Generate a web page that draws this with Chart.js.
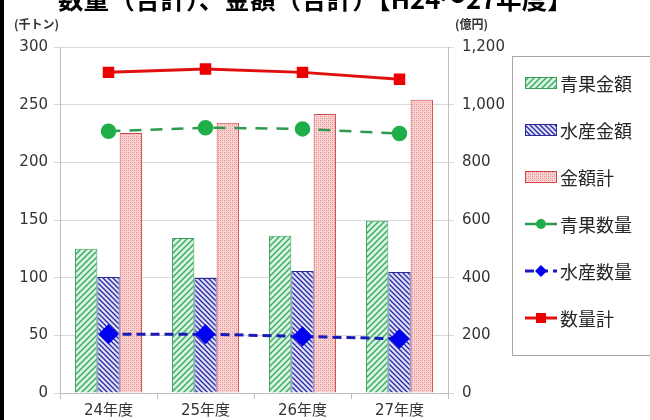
<!DOCTYPE html>
<html>
<head>
<meta charset="utf-8">
<script src="https://cdn.jsdelivr.net/npm/chart.js@4"></script>
<style>
  html, body { margin: 0; padding: 0; background: #fff; }
  #wrap { position: relative; width: 650px; height: 420px; }
</style>
</head>
<body>
<div id="wrap"><canvas id="c" width="650" height="420"></canvas></div>
<script>
// 年度
const years = ['24年度', '25年度', '26年度', '27年度'];
// 金額（億円）
const vegAmount   = [500, 538, 545, 597];
const fishAmount  = [402, 399, 423, 420];
const totalAmount = [902, 937, 968, 1017];
// 数量（千トン）
const vegVolume   = [227, 230, 229, 225];
const fishVolume  = [51, 51, 49, 47];
const totalVolume = [278, 281, 278, 272];
// 目盛
const volumeTicks = [0, 50, 100, 150, 200, 250, 300];
const amountTicks = [0, 200, 400, 600, 800, 1000, 1200];

const TITLE = '数量（合計）、金額（合計）【H24～27年度】';
const CJK = '"Noto Sans CJK JP", "Noto Sans", sans-serif';
const NUM = '"DejaVu Sans", "Noto Sans CJK JP", sans-serif';

function makePattern(size, bg, draw) {
  const c = document.createElement('canvas');
  c.width = size; c.height = size;
  const g = c.getContext('2d');
  g.fillStyle = bg; g.fillRect(0, 0, size, size);
  draw(g, size);
  return document.getElementById('c').getContext('2d').createPattern(c, 'repeat');
}

const greenHatch = makePattern(6, '#d6f4e0', (g, s) => {
  g.strokeStyle = '#3aa862'; g.lineWidth = 1.4;
  g.beginPath();
  g.moveTo(-1, s + 1); g.lineTo(s + 1, -1);
  g.moveTo(-1, 1); g.lineTo(1, -1);
  g.moveTo(s - 1, s + 1); g.lineTo(s + 1, s - 1);
  g.stroke();
});
const blueHatch = makePattern(5, '#e2e2f7', (g, s) => {
  g.strokeStyle = '#2626a8'; g.lineWidth = 1.3;
  g.beginPath();
  g.moveTo(-1, -1); g.lineTo(s + 1, s + 1);
  g.moveTo(s - 1, -1); g.lineTo(s + 1, 1);
  g.moveTo(-1, s - 1); g.lineTo(1, s + 1);
  g.stroke();
});
const pinkDots = makePattern(4, '#f9d2d2', (g) => {
  g.fillStyle = '#e88a8a';
  g.fillRect(0, 0, 1, 1); g.fillRect(2, 2, 1, 1);
  g.fillStyle = '#f2abab';
  g.fillRect(2, 0, 1, 1); g.fillRect(0, 2, 1, 1);
});

const decor = {
  id: 'decor',
  beforeDraw(chart) {
    const ctx = chart.ctx;
    ctx.save();
    ctx.fillStyle = '#fff';
    ctx.fillRect(0, 0, chart.width, chart.height);
    ctx.restore();
  },
  afterDraw(chart) {
    const ctx = chart.ctx;
    ctx.save();
    // left frame edge
    ctx.fillStyle = '#000';
    ctx.fillRect(0, 0, 4, chart.height);

    // main title (upper part runs off the top)
    ctx.fillStyle = '#000';
    let fs = 28;
    ctx.font = 'bold ' + fs + 'px ' + CJK;
    const w = ctx.measureText(TITLE).width;
    fs = fs * 515 / w;
    ctx.font = 'bold ' + fs.toFixed(1) + 'px ' + CJK;
    ctx.textBaseline = 'ideographic';
    ctx.textAlign = 'left';
    ctx.fillText(TITLE, 58, 12);

    // axis units
    ctx.font = 'bold 12px ' + CJK;
    ctx.fillStyle = '#333';
    ctx.textBaseline = 'middle';
    ctx.fillText('(千トン)', 14, 24);
    ctx.fillText('(億円)', 455, 24);

    // legend
    const lx = 512.5, ly = 56.5;
    ctx.strokeStyle = '#a6a6a6';
    ctx.lineWidth = 1;
    ctx.strokeRect(lx, ly, 170, 299);
    const rows = [83, 130, 177, 224, 271, 318];
    chart.data.datasets.forEach((ds, i) => {
      const y = rows[i];
      const sx = 525, sw = 32;
      if (ds.type === 'bar') {
        ctx.fillStyle = ds.backgroundColor;
        ctx.fillRect(sx, y - 6, sw, 12);
        ctx.strokeStyle = ds.borderColor;
        ctx.lineWidth = 1;
        ctx.strokeRect(sx + 0.5, y - 5.5, sw - 1, 11);
      } else {
        ctx.strokeStyle = ds.borderColor;
        ctx.lineWidth = ds.borderWidth;
        ctx.setLineDash(ds.borderDash || []);
        ctx.beginPath();
        ctx.moveTo(sx, y); ctx.lineTo(sx + sw, y);
        ctx.stroke();
        ctx.setLineDash([]);
        const cx = sx + sw / 2;
        ctx.fillStyle = ds.pointBackgroundColor;
        ctx.beginPath();
        if (ds.pointStyle === 'circle') {
          ctx.arc(cx, y, 5, 0, Math.PI * 2);
        } else if (ds.pointStyle === 'rectRot') {
          ctx.moveTo(cx, y - 6); ctx.lineTo(cx + 6, y); ctx.lineTo(cx, y + 6); ctx.lineTo(cx - 6, y);
          ctx.closePath();
        } else {
          ctx.rect(cx - 5, y - 5, 10, 10);
        }
        ctx.fill();
      }
      ctx.fillStyle = '#262626';
      ctx.font = '18px ' + CJK;
      ctx.textBaseline = 'middle';
      ctx.textAlign = 'left';
      ctx.fillText(ds.label, 560, y + 1);
    });
    ctx.restore();
  }
};

new Chart(document.getElementById('c'), {
  data: {
    labels: years,
    datasets: [
      { type: 'bar', label: '青果金額', data: vegAmount, yAxisID: 'yAmount', order: 2,
        backgroundColor: greenHatch, borderColor: '#3c9c5c', borderWidth: 1 },
      { type: 'bar', label: '水産金額', data: fishAmount, yAxisID: 'yAmount', order: 2,
        backgroundColor: blueHatch, borderColor: '#2a2a9c', borderWidth: 1 },
      { type: 'bar', label: '金額計', data: totalAmount, yAxisID: 'yAmount', order: 2,
        backgroundColor: pinkDots, borderColor: '#d24848', borderWidth: 1 },
      { type: 'line', label: '青果数量', data: vegVolume, yAxisID: 'yVolume', order: 1,
        borderColor: '#2e9a50', borderWidth: 2.5, borderDash: [12, 9],
        pointStyle: 'circle', pointRadius: 6.5, pointBackgroundColor: '#1fae48', pointBorderColor: '#1fae48',
        fill: false, tension: 0 },
      { type: 'line', label: '水産数量', data: fishVolume, yAxisID: 'yVolume', order: 1,
        borderColor: '#1a1ab8', borderWidth: 3, borderDash: [9, 5],
        pointStyle: 'rectRot', pointRadius: 8, pointBackgroundColor: '#0000f0', pointBorderColor: '#0000f0',
        fill: false, tension: 0 },
      { type: 'line', label: '数量計', data: totalVolume, yAxisID: 'yVolume', order: 0,
        borderColor: '#e01010', borderWidth: 3,
        pointStyle: 'rect', pointRadius: 6, pointBackgroundColor: '#ee0000', pointBorderColor: '#ee0000',
        fill: false, tension: 0 }
    ]
  },
  options: {
    responsive: false,
    animation: false,
    devicePixelRatio: 1,
    layout: { padding: { top: 47, right: 140, left: 0, bottom: 0 } },
    datasets: { bar: { categoryPercentage: 0.69, barPercentage: 1.0 } },
    plugins: { legend: { display: false }, tooltip: { enabled: false }, title: { display: false } },
    scales: {
      x: {
        offset: true,
        grid: { display: true, offset: true, drawOnChartArea: false, drawTicks: true, tickLength: 6, color: '#bfbfbf' },
        border: { display: true, color: '#bfbfbf' },
        ticks: { color: '#333', font: { family: NUM, size: 15 }, padding: 3 },
        afterFit: s => { s.height = 27; }
      },
      yVolume: {
        position: 'left', min: 0, max: 300,
        afterBuildTicks: s => { s.ticks = volumeTicks.map(v => ({ value: v })); },
        grid: { color: '#d9d9d9', tickLength: 6, lineWidth: 1 },
        border: { display: true, color: '#bfbfbf' },
        ticks: { color: '#333', font: { family: NUM, size: 15 }, padding: 6 },
        afterFit: s => { s.width = 60; }
      },
      yAmount: {
        position: 'right', min: 0, max: 1200,
        afterBuildTicks: s => { s.ticks = amountTicks.map(v => ({ value: v })); },
        grid: { drawOnChartArea: false, color: '#d9d9d9', tickLength: 6 },
        border: { display: true, color: '#bfbfbf' },
        ticks: { color: '#333', font: { family: NUM, size: 15 }, padding: 8,
                 callback: v => v.toLocaleString('en-US') },
        afterFit: s => { s.width = 62; }
      }
    }
  },
  plugins: [decor]
});
</script>
</body>
</html>
